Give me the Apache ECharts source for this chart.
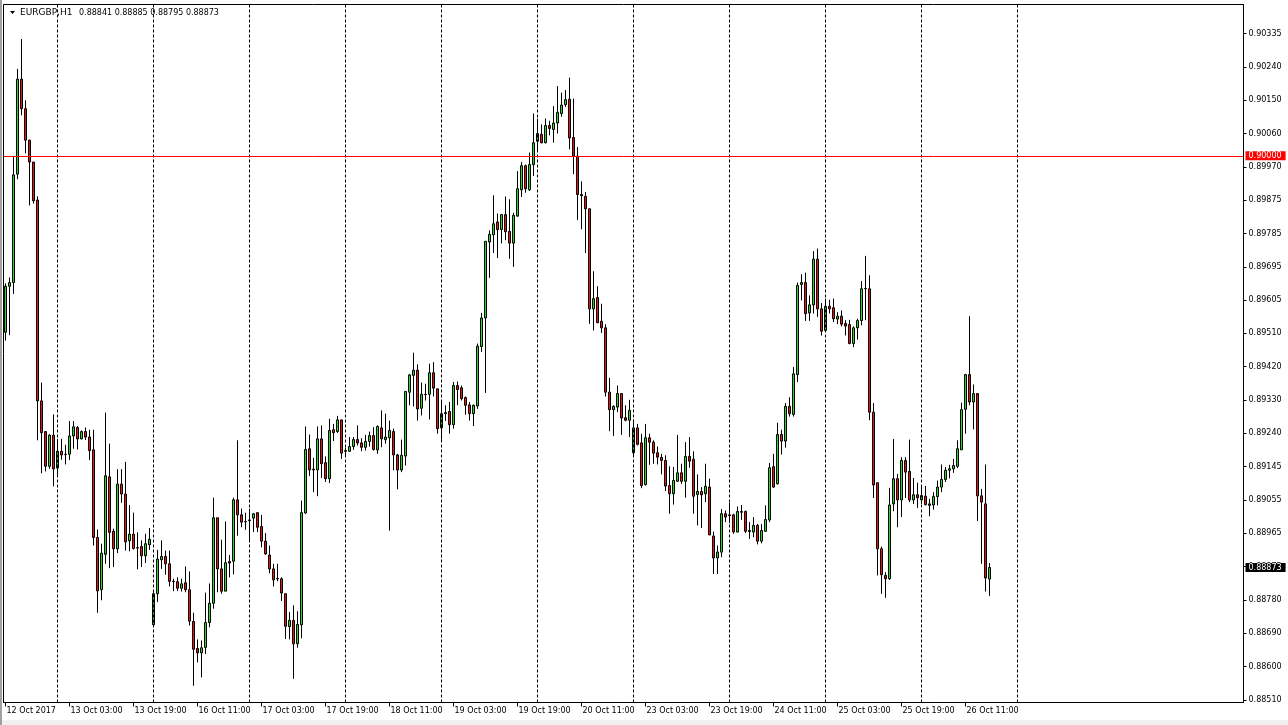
<!DOCTYPE html>
<html><head><meta charset="utf-8">
<script src="https://cdn.jsdelivr.net/npm/echarts@6.0.0/dist/echarts.min.js"></script>
<style>html,body{margin:0;padding:0;background:#fff;}#c{width:1288px;height:725px;}</style>
</head><body><div id="c"></div>
<script>
// ---- data: EURGBP H1 candles (open, high, low, close) ----
const open = [0.89517,0.89643,0.89653,0.89950,0.90210,0.90129,0.90043,0.89983,0.89879,0.89329,
0.89245,0.89150,0.89235,0.89145,0.89191,0.89183,0.89183,0.89233,0.89256,0.89225,
0.89245,0.89230,0.89195,0.88955,0.88812,0.88909,0.89121,0.88972,0.88924,0.89101,
0.89074,0.88946,0.88964,0.88927,0.88930,0.88905,0.88935,0.88716,0.88801,0.88894,
0.88903,0.88883,0.88835,0.88834,0.88816,0.88831,0.88812,0.88725,0.88651,0.88639,
0.88654,0.88722,0.88775,0.89009,0.88869,0.88808,0.88889,0.88890,0.89058,0.89017,
0.88999,0.89001,0.89008,0.89023,0.88985,0.88945,0.88907,0.88869,0.88843,0.88842,
0.88801,0.88711,0.88728,0.88664,0.88716,0.89022,0.89198,0.89142,0.89140,0.89225,
0.89160,0.89116,0.89250,0.89245,0.89277,0.89193,0.89191,0.89204,0.89223,0.89214,
0.89202,0.89218,0.89234,0.89195,0.89255,0.89223,0.89228,0.89245,0.89181,0.89140,
0.89178,0.89353,0.89399,0.89413,0.89309,0.89347,0.89347,0.89406,0.89362,0.89255,
0.89294,0.89300,0.89264,0.89371,0.89365,0.89338,0.89318,0.89294,0.89315,0.89478,
0.89556,0.89764,0.89784,0.89819,0.89798,0.89839,0.89793,0.89761,0.89835,0.89907,
0.89973,0.89907,0.89976,0.90040,0.90059,0.90036,0.90083,0.90072,0.90090,0.90116,
0.90140,0.90155,0.90050,0.89999,0.89894,0.89889,0.89855,0.89581,0.89612,0.89547,
0.89529,0.89353,0.89305,0.89312,0.89349,0.89283,0.89276,0.89187,0.89255,0.89214,
0.89100,0.89228,0.89216,0.89187,0.89174,0.89166,0.89097,0.89075,0.89109,0.89132,
0.89109,0.89177,0.89169,0.89073,0.89081,0.89075,0.89093,0.88959,0.88899,0.88915,
0.89020,0.89017,0.89017,0.88970,0.89026,0.89026,0.88974,0.88970,0.88988,0.88945,
0.88972,0.89003,0.89149,0.89102,0.89237,0.89219,0.89314,0.89292,0.89401,0.89648,
0.89653,0.89570,0.89592,0.89717,0.89581,0.89522,0.89588,0.89584,0.89553,0.89561,
0.89541,0.89538,0.89486,0.89529,0.89549,0.89636,0.89636,0.89298,0.89105,0.88924,
0.88851,0.88842,0.89047,0.89116,0.89058,0.89166,0.89136,0.89058,0.89072,0.89058,
0.89068,0.89047,0.89044,0.89067,0.89093,0.89114,0.89139,0.89143,0.89150,0.89195,
0.89306,0.89401,0.89326,0.89349,0.89069,0.89047,0.88841];
const high = [0.89651,0.89667,0.89998,0.90238,0.90320,0.90152,0.90044,0.89983,0.89889,0.89379,
0.89245,0.89238,0.89292,0.89225,0.89225,0.89209,0.89274,0.89274,0.89260,0.89248,
0.89256,0.89250,0.89250,0.88977,0.88938,0.89297,0.89212,0.88979,0.89142,0.89142,
0.89162,0.89044,0.89023,0.88969,0.88947,0.88965,0.88981,0.88805,0.88921,0.88947,
0.88919,0.88919,0.88842,0.88846,0.88842,0.88876,0.88862,0.88749,0.88676,0.88673,
0.88804,0.88829,0.89064,0.89009,0.88949,0.88999,0.88907,0.89064,0.89221,0.89034,
0.89023,0.89034,0.89022,0.89024,0.89017,0.88967,0.88933,0.88883,0.88883,0.88846,
0.88801,0.88751,0.88769,0.88753,0.89056,0.89259,0.89237,0.89173,0.89259,0.89262,
0.89177,0.89280,0.89266,0.89288,0.89277,0.89201,0.89230,0.89230,0.89262,0.89227,
0.89236,0.89245,0.89257,0.89262,0.89303,0.89294,0.89275,0.89253,0.89184,0.89223,
0.89355,0.89403,0.89461,0.89429,0.89379,0.89376,0.89431,0.89435,0.89362,0.89330,
0.89317,0.89326,0.89381,0.89382,0.89371,0.89341,0.89326,0.89319,0.89486,0.89570,
0.89766,0.89796,0.89892,0.89842,0.89840,0.89889,0.89881,0.89844,0.89958,0.89983,
0.89976,0.90009,0.90116,0.90102,0.90086,0.90102,0.90096,0.90136,0.90191,0.90173,
0.90180,0.90214,0.90157,0.90024,0.89930,0.89901,0.89855,0.89684,0.89643,0.89595,
0.89539,0.89392,0.89317,0.89371,0.89350,0.89317,0.89332,0.89278,0.89266,0.89239,
0.89266,0.89239,0.89221,0.89204,0.89184,0.89180,0.89150,0.89148,0.89236,0.89157,
0.89216,0.89230,0.89191,0.89128,0.89093,0.89157,0.89116,0.88971,0.88933,0.89033,
0.89029,0.89050,0.89020,0.89040,0.89044,0.89029,0.88997,0.89011,0.88992,0.88992,
0.89043,0.89159,0.89184,0.89269,0.89250,0.89323,0.89339,0.89422,0.89653,0.89676,
0.89680,0.89618,0.89739,0.89746,0.89597,0.89609,0.89606,0.89609,0.89572,0.89577,
0.89550,0.89551,0.89533,0.89554,0.89657,0.89726,0.89673,0.89323,0.89105,0.88930,
0.88860,0.89091,0.89225,0.89129,0.89175,0.89175,0.89223,0.89118,0.89105,0.89097,
0.89096,0.89061,0.89079,0.89111,0.89155,0.89148,0.89154,0.89170,0.89221,0.89324,
0.89403,0.89561,0.89374,0.89349,0.89088,0.89155,0.88885];
const low = [0.89494,0.89509,0.89622,0.89936,0.90111,0.90007,0.89864,0.89869,0.89221,0.89131,
0.89136,0.89143,0.89095,0.89122,0.89168,0.89155,0.89167,0.89198,0.89196,0.89224,
0.89222,0.89167,0.88933,0.88749,0.88783,0.88883,0.88871,0.88874,0.88912,0.89050,
0.88919,0.88917,0.88922,0.88868,0.88874,0.88885,0.88921,0.88712,0.88778,0.88869,
0.88853,0.88821,0.88808,0.88808,0.88807,0.88805,0.88714,0.88549,0.88613,0.88572,
0.88636,0.88709,0.88760,0.88805,0.88801,0.88808,0.88846,0.88854,0.88960,0.88983,
0.88976,0.88947,0.88970,0.88970,0.88928,0.88908,0.88857,0.88821,0.88835,0.88781,
0.88677,0.88676,0.88568,0.88653,0.88679,0.89020,0.89123,0.89079,0.89068,0.89118,
0.89107,0.89104,0.89219,0.89241,0.89170,0.89175,0.89189,0.89195,0.89207,0.89191,
0.89193,0.89204,0.89193,0.89184,0.89202,0.89212,0.88974,0.89139,0.89087,0.89134,
0.89152,0.89317,0.89314,0.89275,0.89289,0.89330,0.89278,0.89341,0.89239,0.89223,
0.89274,0.89239,0.89253,0.89317,0.89330,0.89291,0.89275,0.89260,0.89307,0.89463,
0.89351,0.89666,0.89734,0.89720,0.89760,0.89769,0.89718,0.89696,0.89833,0.89887,
0.89899,0.89904,0.89945,0.90014,0.90034,0.90034,0.90056,0.90036,0.90061,0.90107,
0.90134,0.90018,0.89950,0.89824,0.89799,0.89734,0.89540,0.89522,0.89543,0.89515,
0.89341,0.89246,0.89233,0.89298,0.89236,0.89273,0.89230,0.89175,0.89207,0.89090,
0.89097,0.89154,0.89157,0.89155,0.89128,0.89082,0.89020,0.89045,0.89107,0.89102,
0.89064,0.89146,0.89020,0.88988,0.88981,0.89052,0.88962,0.88855,0.88855,0.88901,
0.88997,0.88994,0.88965,0.88969,0.89003,0.88967,0.88951,0.88956,0.88936,0.88939,
0.88970,0.88997,0.89091,0.89100,0.89182,0.89201,0.89286,0.89286,0.89381,0.89604,
0.89548,0.89548,0.89568,0.89559,0.89508,0.89522,0.89568,0.89545,0.89539,0.89533,
0.89508,0.89484,0.89476,0.89497,0.89536,0.89550,0.89276,0.89063,0.88851,0.88801,
0.88790,0.88839,0.89027,0.88983,0.89011,0.89063,0.89052,0.89047,0.89036,0.89047,
0.89043,0.89013,0.89031,0.89043,0.89079,0.89107,0.89117,0.89132,0.89145,0.89195,
0.89239,0.89317,0.89251,0.89000,0.88883,0.88807,0.88795];
const close = [0.89643,0.89653,0.89948,0.90210,0.90129,0.90043,0.89983,0.89877,0.89329,0.89242,
0.89150,0.89235,0.89143,0.89191,0.89181,0.89182,0.89233,0.89258,0.89225,0.89245,
0.89230,0.89193,0.88955,0.88809,0.88912,0.89124,0.88969,0.88924,0.89101,0.89074,
0.88943,0.88964,0.88925,0.88926,0.88905,0.88938,0.88950,0.88801,0.88896,0.88903,
0.88883,0.88835,0.88834,0.88816,0.88828,0.88812,0.88726,0.88649,0.88639,0.88653,
0.88722,0.88775,0.89009,0.88869,0.88808,0.88886,0.88885,0.89058,0.89017,0.88997,
0.88998,0.89003,0.89020,0.88983,0.88945,0.88910,0.88869,0.88839,0.88842,0.88803,
0.88712,0.88728,0.88664,0.88717,0.89023,0.89196,0.89140,0.89140,0.89225,0.89157,
0.89116,0.89248,0.89242,0.89277,0.89186,0.89191,0.89204,0.89223,0.89214,0.89202,
0.89218,0.89234,0.89196,0.89259,0.89225,0.89230,0.89248,0.89181,0.89140,0.89180,
0.89355,0.89400,0.89413,0.89307,0.89347,0.89346,0.89406,0.89364,0.89253,0.89294,
0.89297,0.89264,0.89371,0.89360,0.89335,0.89317,0.89294,0.89317,0.89479,0.89556,
0.89766,0.89785,0.89814,0.89798,0.89839,0.89792,0.89761,0.89837,0.89910,0.89973,
0.89910,0.89976,0.90036,0.90061,0.90036,0.90083,0.90075,0.90090,0.90119,0.90139,
0.90154,0.90049,0.89999,0.89894,0.89891,0.89855,0.89581,0.89609,0.89543,0.89529,
0.89353,0.89305,0.89314,0.89349,0.89282,0.89276,0.89303,0.89255,0.89210,0.89097,
0.89228,0.89216,0.89186,0.89175,0.89166,0.89096,0.89075,0.89111,0.89132,0.89109,
0.89177,0.89164,0.89068,0.89081,0.89072,0.89095,0.88962,0.88899,0.88915,0.89020,
0.89011,0.89015,0.88970,0.89026,0.89024,0.88972,0.88971,0.88988,0.88945,0.88974,
0.89004,0.89146,0.89093,0.89237,0.89219,0.89314,0.89294,0.89403,0.89645,0.89653,
0.89568,0.89592,0.89717,0.89581,0.89520,0.89588,0.89581,0.89554,0.89561,0.89539,
0.89534,0.89486,0.89529,0.89549,0.89636,0.89637,0.89298,0.89099,0.88924,0.88853,
0.88842,0.89044,0.89116,0.89058,0.89166,0.89134,0.89058,0.89072,0.89064,0.89070,
0.89045,0.89043,0.89067,0.89093,0.89114,0.89139,0.89143,0.89152,0.89198,0.89305,
0.89401,0.89326,0.89349,0.89069,0.89052,0.88844,0.88873];

// price-axis tick labels (top to bottom, evenly spaced)
const yTickLabels = ['0.90335','0.90240','0.90150','0.90060','0.89970','0.89875','0.89785','0.89695',
'0.89605','0.89510','0.89420','0.89330','0.89240','0.89145','0.89055','0.88965','0.88875','0.88780',
'0.88690','0.88600','0.88510'];
const symbolName = 'EURGBP,H1';
const levelLine = 0.90000;
const firstBarUTC = Date.UTC(2017, 9, 12, 11); // 12 Oct 2017 11:00
const totalSlots = 310;      // bars + empty space to the right
const monthNames = ['Jan','Feb','Mar','Apr','May','Jun','Jul','Aug','Sep','Oct','Nov','Dec'];

// ---- hourly categories (weekends skipped) ----
const categories = [], hours = [];
let t = firstBarUTC;
while (categories.length < totalSlots) {
  const d = new Date(t);
  const wd = d.getUTCDay();
  if (wd !== 0 && wd !== 6) {
    const hh = String(d.getUTCHours()).padStart(2, '0');
    categories.push(d.getUTCDate() + ' ' + monthNames[d.getUTCMonth()] + ' ' + hh + ':00');
    hours.push(d.getUTCHours());
  }
  t += 3600000;
}
const firstDate = new Date(firstBarUTC);
const firstLabel = firstDate.getUTCDate() + ' ' + monthNames[firstDate.getUTCMonth()] + ' ' + firstDate.getUTCFullYear();
const nBars = close.length;
const labelEvery = 16;
const dayLines = [];
hours.forEach((h, i) => { if (h === 0 && i <= nBars + 24) dayLines.push(i); });

const candles = open.map((o, i) => [o, close[i], low[i], high[i]]);

const yTop = parseFloat(yTickLabels[0]);
const yBot = parseFloat(yTickLabels[yTickLabels.length - 1]);
const yStep = (yTop - yBot) / (yTickLabels.length - 1);
const yTickValues = yTickLabels.map((s, k) => yTop - k * yStep);
const pxPerUnit = 33.333 / yStep;       // tick rows are 33.33 px apart
const yMax = yTop + 29.0 / pxPerUnit;
const yMin = yBot - 2.5 / pxPerUnit;

const FONT = 'DejaVu Sans';
const last = nBars - 1;
const f5 = v => v.toFixed(5);

const chart = echarts.init(document.getElementById('c'), null, {renderer: 'canvas'});
chart.setOption({
  animation: false,
  backgroundColor: '#ffffff',
  textStyle: {fontFamily: FONT},
  grid: {left: 3.5, top: 4.5, width: 1240, height: 698, show: true,
         borderColor: '#000', borderWidth: 1, backgroundColor: '#fff'},
  xAxis: {
    type: 'category', data: categories, boundaryGap: true,
    axisLine: {show: true, lineStyle: {color: '#000', width: 1}},
    axisTick: {show: true, alignWithLabel: true, length: 4,
               interval: i => i % labelEvery === 0 && i < nBars,
               lineStyle: {color: '#000'}},
    axisLabel: {interval: i => i % labelEvery === 0 && i < nBars,
                formatter: (v, i) => (i === 0 ? firstLabel : v),
                align: 'left', margin: 4, padding: [0, 0, 0, 1],
                fontSize: 8, fontFamily: FONT, color: '#000'},
    splitLine: {show: false}
  },
  yAxis: {
    type: 'value', position: 'right', min: yMin, max: yMax, scale: true,
    axisLine: {show: true, lineStyle: {color: '#000', width: 1}},
    axisTick: {show: true, length: 3, customValues: yTickValues, lineStyle: {color: '#000'}},
    axisLabel: {customValues: yTickValues, margin: 5, fontSize: 8, fontFamily: FONT, color: '#000',
                formatter: v => yTickLabels[Math.round((yTop - v) / yStep)] || ''},
    splitLine: {show: false}
  },
  graphic: [
    {type: 'rect', shape: {x: 0, y: 720, width: 1288, height: 5}, style: {fill: '#f0f0f0'}, silent: true},
    {type: 'rect', shape: {x: 0, y: 0, width: 2, height: 725}, style: {fill: '#a0a0a0'}, silent: true},
    {type: 'polygon', shape: {points: [[10, 11], [15, 11], [12.5, 14]]}, style: {fill: '#000'}, silent: true},
    {type: 'text', x: 20, y: 13, silent: true,
     style: {text: symbolName, fontSize: 9, fontFamily: FONT, fill: '#000', verticalAlign: 'middle'}},
    {type: 'text', x: 79, y: 13, silent: true,
     style: {text: [open[last], high[last], low[last], close[last]].map(f5).join(' '),
             fontSize: 8, fontFamily: FONT, fill: '#000', verticalAlign: 'middle'}}
  ],
  series: [{
    type: 'candlestick',
    data: candles,
    barWidth: 2,
    emphasis: {disabled: true},
    itemStyle: {color: '#22dd22', color0: '#ee1111', borderColor: '#000', borderColor0: '#000',
                borderColorDoji: '#000', borderWidth: 1},
    markLine: {
      silent: true, symbol: ['none', 'none'], animation: false, precision: 5,
      label: {show: false},
      lineStyle: {color: '#000', type: [3, 2], width: 1},
      data: dayLines.map(i => ({xAxis: categories[i]})).concat([
        {yAxis: levelLine, lineStyle: {color: '#ff0000', type: 'solid', width: 1},
         label: {show: true, position: 'end', distance: 2, formatter: f5(levelLine),
                 color: '#fff', backgroundColor: '#ff0000', padding: [1, 4, 0, 3],
                 fontSize: 8, fontFamily: FONT}},
        {yAxis: close[last], lineStyle: {color: 'rgba(0,0,0,0)', width: 1},
         label: {show: true, position: 'end', distance: 2, formatter: f5(close[last]),
                 color: '#fff', backgroundColor: '#000', padding: [1, 4, 0, 3],
                 fontSize: 8, fontFamily: FONT}}
      ])
    }
  }]
});
</script></body></html>
